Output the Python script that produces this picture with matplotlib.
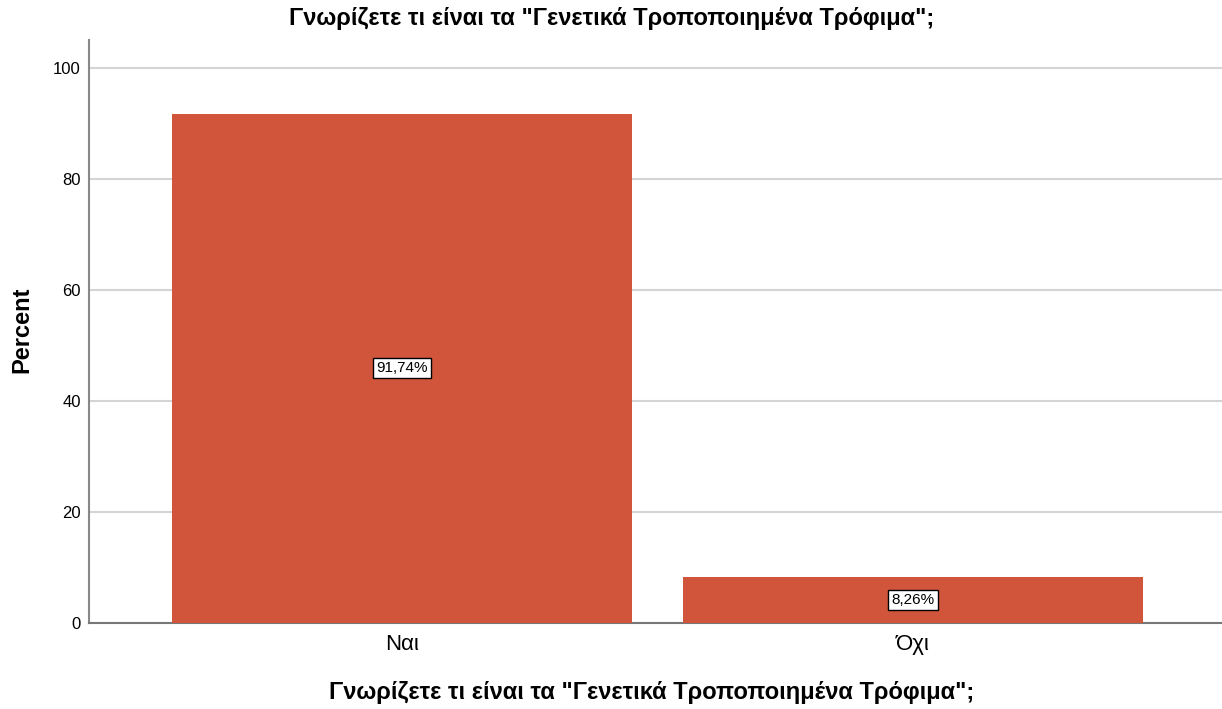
import matplotlib.pyplot as plt

# Data
categories = ["Ναι", "Όχι"]
percents = [91.74, 8.26]
labels = ["91,74%", "8,26%"]
title = 'Γνωρίζετε τι είναι τα "Γενετικά Τροποποιημένα Τρόφιμα";'

plt.rcParams['font.family'] = ['Liberation Sans', 'DejaVu Sans']

W, H = 1222, 709
fig = plt.figure(figsize=(W / 100, H / 100), dpi=100)
ax = fig.add_axes([89 / W, 1 - 623 / H, (W - 89) / W, (623 - 40) / H])

x = list(range(len(categories)))
ax.bar(x, percents, width=0.9, color='#D1553A', zorder=3)

for xi, p, lab in zip(x, percents, labels):
    ax.text(xi, p / 2, lab, ha='center', va='center', fontsize=11, zorder=4,
            bbox=dict(boxstyle='square,pad=0.2', fc='white', ec='black', lw=1))

ax.set_xlim(-0.6125, 1.605)
ax.set_ylim(0, 105)
ax.set_yticks([0, 20, 40, 60, 80, 100])
ax.set_xticks(x)
ax.set_xticklabels(categories, fontsize=16)
ax.tick_params(axis='y', length=0, labelsize=12, pad=6)
ax.tick_params(axis='x', length=0, pad=8)

ax.grid(axis='y', color='#d4d4d4', linewidth=1.5, zorder=0)
for s in ['top', 'right']:
    ax.spines[s].set_visible(False)
ax.spines['left'].set_color('#888888')
ax.spines['left'].set_linewidth(1.5)
ax.spines['bottom'].set_color('#777777')
ax.spines['bottom'].set_linewidth(1.5)

fig.text(22 / W, 1 - 330 / H, "Percent", rotation=90, ha='center', va='center',
         fontsize=17, fontweight='bold')
fig.text(652 / W, 1 - 692 / H, title, ha='center', va='center',
         fontsize=17, fontweight='bold')
fig.text(612 / W, 1 - 18 / H, title, ha='center', va='center',
         fontsize=17, fontweight='bold')

fig.savefig("out.png", dpi=100)
